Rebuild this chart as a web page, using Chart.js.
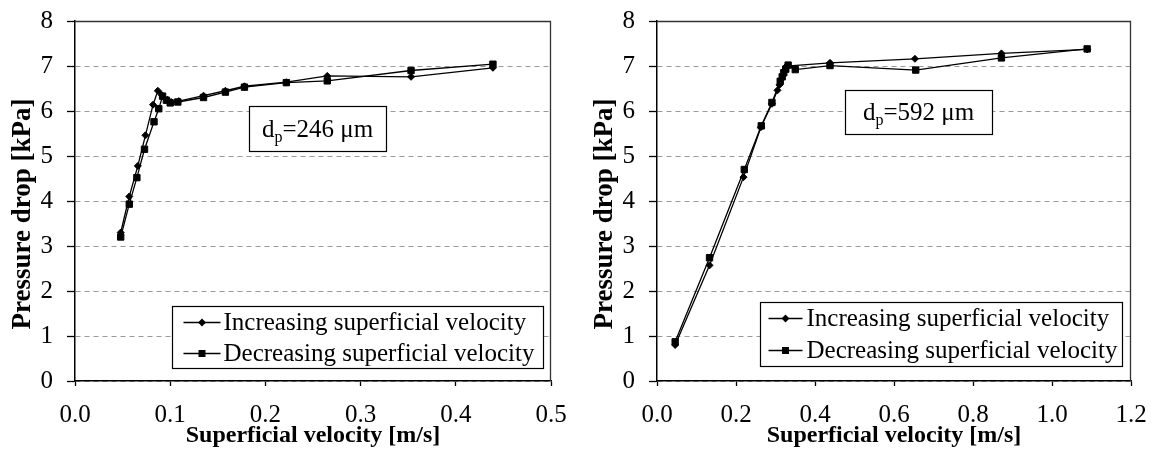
<!DOCTYPE html>
<html>
<head>
<meta charset="utf-8">
<script src="https://cdn.jsdelivr.net/npm/chart.js@4.4.1/dist/chart.umd.min.js"></script>
<style>
  html, body { margin: 0; padding: 0; background: #fff; }
  body { width: 1151px; height: 453px; position: relative; overflow: hidden; }
  canvas { position: absolute; top: 0; }
  #fine { left: 0; }
  #coarse { left: 582px; }
</style>
</head>
<body>
<canvas id="fine" width="576" height="453"></canvas>
<canvas id="coarse" width="569" height="453"></canvas>
<script>
// Fine powder, d_p = 246 µm
const velInc246 = [0.048, 0.057, 0.066, 0.074, 0.082, 0.087, 0.091, 0.097, 0.101, 0.109, 0.135, 0.158, 0.178, 0.222, 0.265, 0.353, 0.439];
const dpInc246  = [3.30, 4.10, 4.78, 5.46, 6.14, 6.45, 6.36, 6.25, 6.20, 6.22, 6.34, 6.45, 6.55, 6.64, 6.78, 6.76, 6.96];
const velDec246 = [0.439, 0.353, 0.265, 0.222, 0.178, 0.158, 0.135, 0.108, 0.100, 0.096, 0.092, 0.088, 0.083, 0.073, 0.065, 0.057, 0.048];
const dpDec246  = [7.04, 6.90, 6.67, 6.63, 6.53, 6.42, 6.30, 6.20, 6.18, 6.24, 6.33, 6.05, 5.76, 5.15, 4.52, 3.93, 3.20];

// Coarse powder, d_p = 592 µm
const velInc592 = [0.046, 0.133, 0.219, 0.263, 0.291, 0.305, 0.310, 0.314, 0.318, 0.322, 0.328, 0.438, 0.653, 0.872, 1.089];
const dpInc592  = [0.80, 2.57, 4.53, 5.64, 6.16, 6.46, 6.58, 6.70, 6.80, 6.90, 7.00, 7.07, 7.16, 7.28, 7.37];
const velDec592 = [1.089, 0.872, 0.655, 0.438, 0.350, 0.332, 0.326, 0.321, 0.317, 0.312, 0.291, 0.264, 0.221, 0.133, 0.046];
const dpDec592  = [7.38, 7.18, 6.91, 7.01, 6.92, 7.02, 6.93, 6.85, 6.76, 6.66, 6.19, 5.67, 4.70, 2.74, 0.87];

// Axis ticks
const xTicks246 = [0, 0.1, 0.2, 0.3, 0.4, 0.5];
const xTicks592 = [0, 0.2, 0.4, 0.6, 0.8, 1.0, 1.2];
const yTicks = [0, 1, 2, 3, 4, 5, 6, 7, 8];

// Texts
const seriesNames = ['Increasing superficial velocity', 'Decreasing superficial velocity'];
const xTitle = 'Superficial velocity [m/s]';
const yTitle = 'Pressure drop [kPa]';
const sizes = ['246', '592'];

const SERIF = '"Liberation Serif", "Times New Roman", Times, serif';

function drawMarker(ctx, style, r, x, y) {
  if (Chart.helpers && Chart.helpers.drawPoint) {
    Chart.helpers.drawPoint(ctx, { pointStyle: style, radius: r, rotation: 0, borderWidth: 1 }, x, y);
    return;
  }
  ctx.beginPath();
  if (style === 'rect') {
    const s = r * Math.SQRT1_2;
    ctx.rect(x - s, y - s, 2 * s, 2 * s);
  } else {
    ctx.moveTo(x, y - r); ctx.lineTo(x + r, y); ctx.lineTo(x, y + r); ctx.lineTo(x - r, y); ctx.closePath();
  }
  ctx.fill(); ctx.stroke();
}

// Plot frame, vertical axis title, particle-size box and the legend box
const decorPlugin = {
  id: 'decor',
  beforeDatasetsDraw(chart, args, opts) {
    const { ctx, chartArea: a } = chart;
    ctx.save();
    ctx.strokeStyle = '#333';
    ctx.lineWidth = 1.3;
    ctx.beginPath();
    ctx.moveTo(a.left, a.top + 0.5);
    ctx.lineTo(a.right - 0.5, a.top + 0.5);
    ctx.lineTo(a.right - 0.5, a.bottom);
    ctx.stroke();

    // vertical axis title, set a little below the middle of the axis
    const ys = chart.scales.y;
    ctx.translate(opts.yTitle.x, (ys.top + ys.bottom) / 2 + opts.yTitle.shift);
    ctx.rotate(-Math.PI / 2);
    ctx.font = 'bold 27px ' + SERIF;
    ctx.fillStyle = '#000';
    ctx.textAlign = 'center';
    ctx.textBaseline = 'middle';
    ctx.fillText(opts.yTitle.text, 0, 0);
    ctx.restore();
  },
  afterDraw(chart, args, opts) {
    const { ctx, chartArea: a } = chart;
    ctx.save();

    // particle size box: d_p = ... µm
    const s = opts.size;
    const cx = chart.scales.x.getPixelForValue(s.x);
    const cy = chart.scales.y.getPixelForValue(s.y);
    const big = '25px ' + SERIF, small = '16px ' + SERIF;
    const parts = [['d', big, 0], ['p', small, 5], ['=' + s.text + ' \u03bcm', big, 0]];
    let tw = 0;
    parts.forEach(p => { ctx.font = p[1]; p.push(ctx.measureText(p[0]).width); tw += p[3]; });
    const bx = Math.round(cx - s.w / 2) + 0.5, by = Math.round(cy - s.h / 2) + 0.5;
    ctx.fillStyle = '#fff';
    ctx.fillRect(bx, by, s.w, s.h);
    ctx.strokeStyle = '#000';
    ctx.lineWidth = 1.2;
    ctx.strokeRect(bx, by, s.w, s.h);
    ctx.fillStyle = '#000';
    ctx.textAlign = 'left';
    ctx.textBaseline = 'alphabetic';
    let tx = cx - tw / 2;
    parts.forEach(p => { ctx.font = p[1]; ctx.fillText(p[0], tx, cy + 8.5 + p[2]); tx += p[3]; });

    // legend box
    const L = opts.legend;
    const font = '25px ' + SERIF;
    ctx.font = font;
    const ds = chart.data.datasets;
    const textW = Math.max(...ds.map(d => ctx.measureText(d.label).width));
    const w = Math.round(L.padL + L.sample + L.gap + textW + L.padR);
    const right = a.right - L.right, bottom = a.bottom - L.bottom;
    const left = Math.round(right - w) + 0.5, top = Math.round(bottom - L.h) + 0.5;
    ctx.fillStyle = '#fff';
    ctx.fillRect(left, top, w, L.h);
    ctx.strokeStyle = '#000';
    ctx.lineWidth = 1.2;
    ctx.strokeRect(left, top, w, L.h);
    ds.forEach((d, i) => {
      const y = top + L.row0 + i * L.rowGap;
      ctx.strokeStyle = '#000';
      ctx.fillStyle = '#000';
      ctx.lineWidth = d.borderWidth;
      ctx.beginPath();
      ctx.moveTo(left + L.padL, y);
      ctx.lineTo(left + L.padL + L.sample, y);
      ctx.stroke();
      drawMarker(ctx, d.pointStyle, d.pointStyle === 'rect' ? 4 : 3, left + L.padL + L.sample / 2, y);
      ctx.font = font;
      ctx.textAlign = 'left';
      ctx.textBaseline = 'middle';
      ctx.fillText(d.label, left + L.padL + L.sample + L.gap, y + 1);
    });
    ctx.restore();
  }
};

function series(label, xs, ys, style, r) {
  return {
    label,
    data: xs.map((x, i) => ({ x, y: ys[i] })),
    borderColor: '#000',
    backgroundColor: '#000',
    borderWidth: 1.3,
    pointStyle: style,
    pointRadius: r,
    pointBorderWidth: 1,
    pointBorderColor: '#000',
    pointBackgroundColor: '#000',
    tension: 0,
    fill: false
  };
}

function makeChart(id, cfg) {
  return new Chart(document.getElementById(id), {
    type: 'line',
    data: {
      datasets: [
        series(seriesNames[0], cfg.incX, cfg.incY, 'rectRot', 3.5),
        series(seriesNames[1], cfg.decX, cfg.decY, 'rect', 4.5)
      ]
    },
    options: {
      responsive: false,
      animation: false,
      devicePixelRatio: 1,
      layout: { padding: { top: 21, right: cfg.padRight, bottom: 0, left: 0 } },
      plugins: {
        legend: { display: false },
        tooltip: { enabled: false },
        decor: { size: cfg.size, legend: cfg.legend, yTitle: { text: yTitle, x: 23, shift: 13 } }
      },
      scales: {
        x: {
          type: 'linear',
          min: cfg.xTicks[0],
          max: cfg.xTicks[cfg.xTicks.length - 1],
          afterBuildTicks: s => { s.ticks = cfg.xTicks.map(v => ({ value: v })); },
          afterFit: s => { s.height = 72; s.paddingLeft = 0; s.paddingRight = 0; },
          ticks: {
            callback: v => Number(v).toFixed(1),
            font: { family: SERIF, size: 25 },
            color: '#000',
            padding: 14,
            maxRotation: 0,
            autoSkip: false
          },
          grid: { drawOnChartArea: false, tickLength: 5, tickColor: '#000', tickWidth: 1.3, color: '#000' },
          border: { color: '#000', width: 1.5 },
          title: {
            display: true,
            text: xTitle,
            color: '#000',
            font: { family: SERIF, size: 24, weight: 'bold' },
            padding: { top: 0, bottom: 3 }
          }
        },
        y: {
          type: 'linear',
          min: yTicks[0],
          max: yTicks[yTicks.length - 1],
          afterBuildTicks: s => { s.ticks = yTicks.map(v => ({ value: v })); },
          afterFit: s => { s.width = 75; s.paddingTop = 0; s.paddingBottom = 0; },
          ticks: {
            callback: v => String(v),
            font: { family: SERIF, size: 25 },
            color: '#000',
            padding: 14
          },
          grid: { color: '#9a9a9a', lineWidth: 1, tickLength: 8, tickColor: '#000', tickWidth: 1.3 },
          border: { color: '#000', width: 1.5, dash: [5, 4] },
          title: { display: false }
        }
      }
    },
    plugins: [decorPlugin]
  });
}

makeChart('fine', {
  incX: velInc246, incY: dpInc246, decX: velDec246, decY: dpDec246,
  xTicks: xTicks246, padRight: 25,
  size: { text: sizes[0], x: 0.2547, y: 5.61, w: 137, h: 45 },
  legend: { right: 8, bottom: 13, h: 62, row0: 16, rowGap: 31, padL: 11, sample: 37, gap: 3, padR: 9 }
});

makeChart('coarse', {
  incX: velInc592, incY: dpInc592, decX: velDec592, decY: dpDec592,
  xTicks: xTicks592, padRight: 20,
  size: { text: sizes[1], x: 0.662, y: 5.98, w: 147, h: 44 },
  legend: { right: 9, bottom: 15, h: 64, row0: 16, rowGap: 32, padL: 8, sample: 34, gap: 4, padR: 5 }
});
</script>
</body>
</html>
